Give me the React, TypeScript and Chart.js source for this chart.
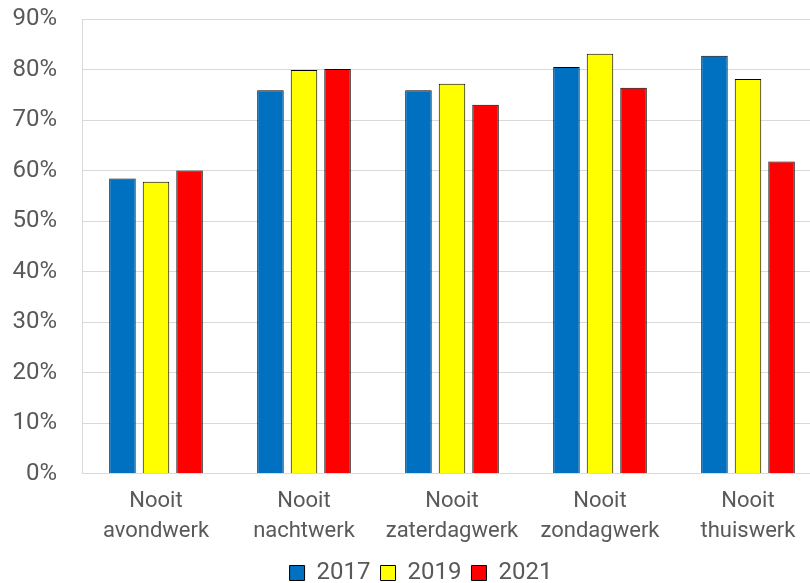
import React, { useEffect, useRef } from "react";
import { Chart, registerables } from "chart.js";

Chart.register(...registerables);

const categories: string[][] = [
  ["Nooit", "avondwerk"],
  ["Nooit", "nachtwerk"],
  ["Nooit", "zaterdagwerk"],
  ["Nooit", "zondagwerk"],
  ["Nooit", "thuiswerk"],
];
const series2017 = [58.4, 75.9, 75.9, 80.5, 82.7];
const series2019 = [57.8, 79.9, 77.2, 83.1, 78.1];
const series2021 = [60.0, 80.1, 73.0, 76.4, 61.8];
const seriesLabels = ["2017", "2019", "2021"];
const seriesColors = ["#0070C0", "#FFFF00", "#FF0000"];

const FONT = "Roboto";
const TEXT = "#595959";
const GRID = "#d9d9d9";

export default function App() {
  const ref = useRef<HTMLCanvasElement | null>(null);
  useEffect(() => {
    if (!ref.current) return;
    const data = [series2017, series2019, series2021];
    const chart = new Chart(ref.current, {
      type: "bar",
      data: {
        labels: categories,
        datasets: data.map((d, i) => ({
          label: seriesLabels[i],
          data: d,
          backgroundColor: seriesColors[i],
          borderColor: "#000000",
          borderWidth: 1,
          categoryPercentage: 0.68,
          barPercentage: 0.79,
        })),
      },
      options: {
        responsive: false,
        animation: false,
        devicePixelRatio: 1,
        layout: { padding: { top: 19, right: 0, left: 0, bottom: -12 } },
        plugins: {
          tooltip: { enabled: false },
          legend: {
            position: "bottom",
            labels: {
              boxWidth: 15,
              boxHeight: 15,
              padding: 10,
              color: TEXT,
              font: { family: FONT, size: 24 },
            },
          },
        },
        scales: {
          x: {
            grid: { display: false },
            border: { display: true, color: GRID, width: 1 },
            ticks: {
              color: TEXT,
              padding: 5,
              maxRotation: 0,
              autoSkip: false,
              font: { family: FONT, size: 22, lineHeight: 1.35 },
            },
          },
          y: {
            min: 0,
            max: 90,
            afterFit: (s: any) => {
              s.width = 82;
              s.paddingTop = 0;
              s.paddingBottom = 0;
            },
            grid: { color: GRID, drawTicks: false },
            border: { display: true, color: GRID, width: 1 },
            ticks: {
              stepSize: 10,
              color: TEXT,
              padding: 25,
              font: { family: FONT, size: 24 },
              callback: (v: any) => v + "%",
            },
          },
          yRight: {
            type: "linear",
            position: "right",
            display: true,
            grid: { display: false },
            border: { display: false },
            ticks: { display: false },
            afterFit: (s: any) => {
              s.width = 20;
              s.paddingTop = 0;
              s.paddingBottom = 0;
            },
          },
        },
      },
    });
    return () => chart.destroy();
  }, []);
  return (
    <div style={{ position: "absolute", left: 0, top: 0, width: 810, height: 583, overflow: "hidden", background: "#fff" }}>
      <canvas ref={ref} width={842} height={583} />
    </div>
  );
}
